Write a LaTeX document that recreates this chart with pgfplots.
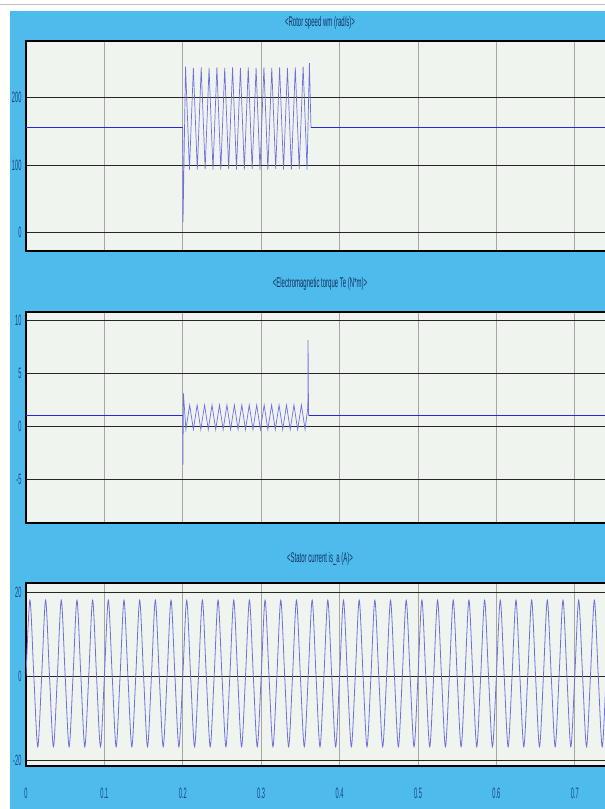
\documentclass[border=0pt]{standalone}
\usepackage{fontspec}
\setmainfont{Liberation Sans}
\usepackage{graphicx}
\usepackage{pgfplots}
\pgfplotsset{compat=1.18}
\definecolor{scopebg}{RGB}{77,187,236}
\definecolor{plotbg}{RGB}{239,245,238}
\definecolor{lbl}{RGB}{25,68,135}
\definecolor{ttl}{RGB}{20,48,98}
\definecolor{sig}{RGB}{40,40,210}
\definecolor{osc}{RGB}{110,110,225}
\newcommand{\sq}[1]{\scalebox{0.38}[1]{#1}}
\newcommand{\sqt}[1]{\scalebox{0.43}[1]{#1}}
\pgfplotsset{
 scopeax/.style={
  scale only axis, width=594pt,
  xmin=0, xmax=0.7577,
  xtick={0,0.1,0.2,0.3,0.4,0.5,0.6,0.7},
  grid=major,
  x grid style={black!35, line width=0.7pt},
  y grid style={black!85, line width=0.7pt},
  axis background/.style={fill=plotbg},
  axis line style={black, line width=1.6pt},
  major tick length=0pt,
  tick style={draw=none},
  yticklabel={\sq{\fontsize{15}{15}\selectfont\pgfmathprintnumber[assume math mode=true]{\tick}}},
  yticklabel style={text=lbl, xshift=-1pt},
  title style={at={(0.495,1)}, anchor=center, text=ttl, font=\fontsize{14}{14}\selectfont},
 },
}
\begin{document}
\begin{tikzpicture}[x=1pt,y=1pt]
\path[use as bounding box] (0,0) rectangle (605,-809);
\fill[white] (0,0) rectangle (605,-809);
\fill[scopebg] (10,-11) rectangle (605,-809);
\draw[black!25, line width=1pt] (0,-4) -- (605,-4);
\begin{scope}
\clip (0,0) rectangle (605,-809);
% ---------------- top panel: rotor speed
\begin{axis}[scopeax, at={(26pt,-251pt)}, anchor=south west, height=210pt,
  ymin=-27.8, ymax=284, ytick={0,100,200}, xticklabels={},
  title={\sqt{<Rotor speed wm (rad/s)>}}, title style={yshift=12pt}]
\addplot[sig, line width=1.4pt] coordinates {(0,155.5)(0.2,155.5)};
\addplot[osc, line width=0.7pt] coordinates {
(0.2,155.5)(0.2003,15)(0.2035,246)(0.2085,93)(0.2135,244)(0.2185,93)(0.2235,245)(0.2285,94)
(0.2335,244)(0.2385,93)(0.2435,245)(0.2485,93)(0.2535,244)(0.2585,94)(0.2635,245)(0.2685,93)
(0.2735,244)(0.2785,93)(0.2835,245)(0.2885,94)(0.2935,244)(0.2985,93)(0.3035,245)(0.3085,93)
(0.3135,244)(0.3185,94)(0.3235,245)(0.3285,93)(0.3335,244)(0.3385,93)(0.3435,245)(0.3485,94)
(0.3535,246)(0.3585,93)(0.3615,251)(0.3635,155.5)};
\addplot[sig, line width=1.4pt] coordinates {(0.3635,155.5)(0.76,155.5)};
\end{axis}
% ---------------- middle panel: electromagnetic torque
\begin{axis}[scopeax, at={(26pt,-523pt)}, anchor=south west, height=211pt,
  ymin=-9.1, ymax=10.75, ytick={-5,0,5,10}, xticklabels={},
  title={\sqt{<Electromagnetic torque Te (N*m)>}}, title style={yshift=22pt}]
\addplot[sig, line width=1.4pt] coordinates {(0,1)(0.2,1)};
\addplot[osc, line width=0.7pt] coordinates {
(0.2,1)(0.2002,-3.6)(0.2008,3.1)
(0.2040,-0.3)(0.2088,2.0)(0.2135,-0.3)(0.2183,2.0)(0.2230,-0.3)(0.2278,2.0)(0.2325,-0.3)(0.2373,2.0)
(0.2420,-0.3)(0.2468,2.0)(0.2515,-0.3)(0.2563,2.0)(0.2610,-0.3)(0.2658,2.0)(0.2705,-0.3)(0.2753,2.0)
(0.2800,-0.3)(0.2848,2.0)(0.2895,-0.3)(0.2943,2.0)(0.2990,-0.3)(0.3038,2.0)(0.3085,-0.3)(0.3133,2.0)
(0.3180,-0.3)(0.3228,2.0)(0.3275,-0.3)(0.3323,2.0)(0.3370,-0.3)(0.3418,2.0)(0.3465,-0.3)(0.3513,2.0)
(0.3560,-0.3)(0.3595,1.8)(0.3598,8.1)(0.3604,1.0)};
\addplot[sig, line width=1.4pt] coordinates {(0.3604,1)(0.76,1)};
\end{axis}
% ---------------- bottom panel: stator current
\begin{axis}[scopeax, at={(26pt,-766pt)}, anchor=south west, height=183pt,
  ymin=-21.4, ymax=22.3, ytick={-20,0,20},
  xticklabel={\sq{\fontsize{15}{15}\selectfont\pgfmathprintnumber[assume math mode=true]{\tick}}},
  xticklabel style={text=lbl, yshift=-18pt},
  title={\sqt{<Stator current is\_a (A)>}}, title style={yshift=18pt}]
\addplot[osc, line width=0.8pt, smooth] coordinates {
(0.000,0)(0.005,18.2)(0.010,0)(0.015,-16.8)
(0.020,0)(0.025,18.2)(0.030,0)(0.035,-16.8)
(0.040,0)(0.045,18.2)(0.050,0)(0.055,-16.8)
(0.060,0)(0.065,18.2)(0.070,0)(0.075,-16.8)
(0.080,0)(0.085,18.2)(0.090,0)(0.095,-16.8)
(0.100,0)(0.105,18.2)(0.110,0)(0.115,-16.8)
(0.120,0)(0.125,18.2)(0.130,0)(0.135,-16.8)
(0.140,0)(0.145,18.2)(0.150,0)(0.155,-16.8)
(0.160,0)(0.165,18.2)(0.170,0)(0.175,-16.8)
(0.180,0)(0.185,18.2)(0.190,0)(0.195,-16.8)
(0.200,0)(0.205,18.2)(0.210,0)(0.215,-16.8)
(0.220,0)(0.225,18.2)(0.230,0)(0.235,-16.8)
(0.240,0)(0.245,18.2)(0.250,0)(0.255,-16.8)
(0.260,0)(0.265,18.2)(0.270,0)(0.275,-16.8)
(0.280,0)(0.285,18.2)(0.290,0)(0.295,-16.8)
(0.300,0)(0.305,18.2)(0.310,0)(0.315,-16.8)
(0.320,0)(0.325,18.2)(0.330,0)(0.335,-16.8)
(0.340,0)(0.345,18.2)(0.350,0)(0.355,-16.8)
(0.360,0)(0.365,18.2)(0.370,0)(0.375,-16.8)
(0.380,0)(0.385,18.2)(0.390,0)(0.395,-16.8)
(0.400,0)(0.405,18.2)(0.410,0)(0.415,-16.8)
(0.420,0)(0.425,18.2)(0.430,0)(0.435,-16.8)
(0.440,0)(0.445,18.2)(0.450,0)(0.455,-16.8)
(0.460,0)(0.465,18.2)(0.470,0)(0.475,-16.8)
(0.480,0)(0.485,18.2)(0.490,0)(0.495,-16.8)
(0.500,0)(0.505,18.2)(0.510,0)(0.515,-16.8)
(0.520,0)(0.525,18.2)(0.530,0)(0.535,-16.8)
(0.540,0)(0.545,18.2)(0.550,0)(0.555,-16.8)
(0.560,0)(0.565,18.2)(0.570,0)(0.575,-16.8)
(0.580,0)(0.585,18.2)(0.590,0)(0.595,-16.8)
(0.600,0)(0.605,18.2)(0.610,0)(0.615,-16.8)
(0.620,0)(0.625,18.2)(0.630,0)(0.635,-16.8)
(0.640,0)(0.645,18.2)(0.650,0)(0.655,-16.8)
(0.660,0)(0.665,18.2)(0.670,0)(0.675,-16.8)
(0.680,0)(0.685,18.2)(0.690,0)(0.695,-16.8)
(0.700,0)(0.705,18.2)(0.710,0)(0.715,-16.8)
(0.720,0)(0.725,18.2)(0.730,0)(0.735,-16.8)
(0.740,0)(0.745,18.2)(0.750,0)(0.755,-16.8)(0.760,0)};
\end{axis}
\end{scope}
\end{tikzpicture}
\end{document}
